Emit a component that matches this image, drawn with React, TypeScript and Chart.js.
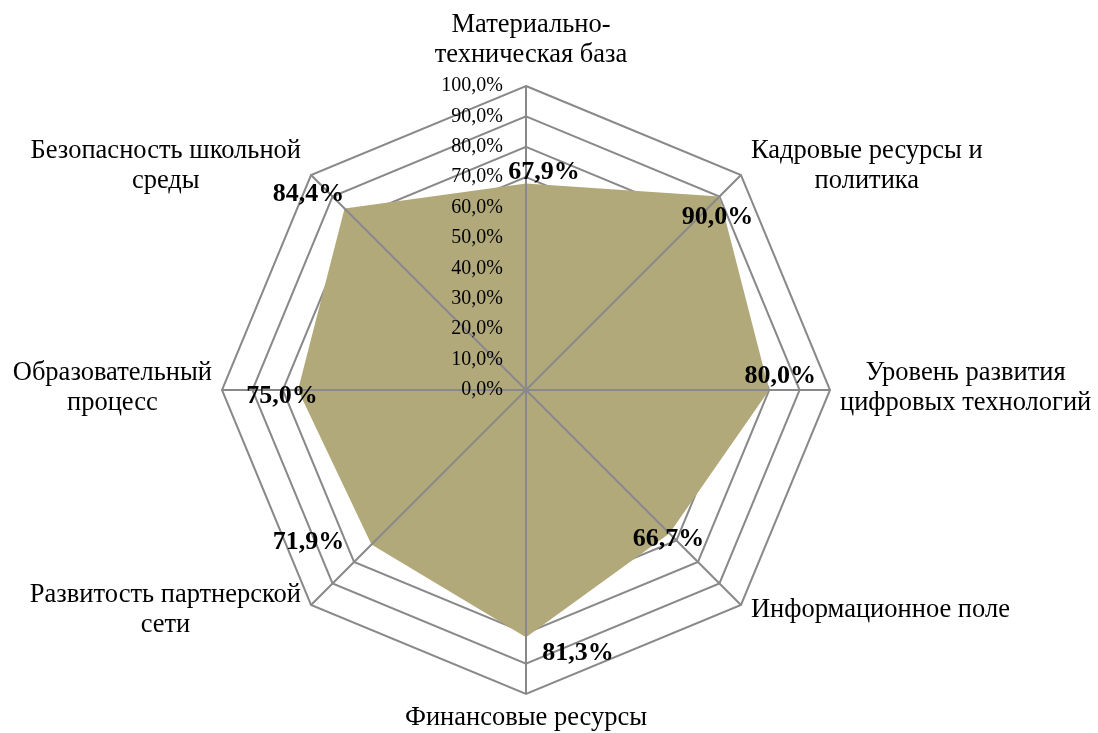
import React, { useEffect, useRef } from "react";
import { Chart, registerables } from "chart.js";

Chart.register(...registerables);

const categories: string[][] = [
  ["Материально-", "техническая база"],
  ["Кадровые ресурсы и", "политика"],
  ["Уровень развития", "цифровых технологий"],
  ["Информационное поле"],
  ["Финансовые ресурсы"],
  ["Развитость партнерской", "сети"],
  ["Образовательный", "процесс"],
  ["Безопасность школьной", "среды"],
];

const values: number[] = [67.9, 90.0, 80.0, 66.7, 81.3, 71.9, 75.0, 84.4];

const tickValues: number[] = [0, 10, 20, 30, 40, 50, 60, 70, 80, 90, 100];

// style / placement (not data)
const FILL = "#B2A97A";
const GRID = "#898989";
const SERIF = '"Liberation Serif", "Times New Roman", serif';
const LABEL_OFFSETS: [number, number][] = [
  [18, -5],
  [-2, 27],
  [11, -7],
  [-1, 13],
  [52, 23],
  [-63, 4],
  [-16, 13],
  [-36, -8],
];

const fmt = (v: number) => v.toFixed(1).replace(".", ",") + "%";

const overlayPlugin = {
  id: "overlay",
  afterDatasetsDraw(chart: any) {
    const scale = chart.scales.r;
    const ctx = chart.ctx as CanvasRenderingContext2D;
    const n = categories.length;
    const xc = scale.xCenter;
    const yc = scale.yCenter;
    const R = scale.drawingArea;
    ctx.save();

    // spokes drawn over the fill
    ctx.strokeStyle = GRID;
    ctx.lineWidth = 2;
    for (let i = 0; i < n; i++) {
      const p = scale.getPointPosition(i, R);
      ctx.beginPath();
      ctx.moveTo(xc, yc);
      ctx.lineTo(p.x, p.y);
      ctx.stroke();
    }

    // tick labels
    ctx.fillStyle = "#000";
    ctx.font = `20px ${SERIF}`;
    ctx.textAlign = "right";
    ctx.textBaseline = "middle";
    for (const v of tickValues) {
      const y = yc - scale.getDistanceFromCenterForValue(v);
      ctx.fillText(fmt(v), xc - 23, y);
    }

    // data labels
    ctx.font = `bold 26px ${SERIF}`;
    ctx.textAlign = "center";
    ctx.textBaseline = "alphabetic";
    for (let i = 0; i < n; i++) {
      const p = scale.getPointPositionForValue(i, values[i]);
      const [dx, dy] = LABEL_OFFSETS[i];
      ctx.fillText(fmt(values[i]), p.x + dx, p.y + dy);
    }

    // point labels
    ctx.font = `26.5px ${SERIF}`;
    ctx.textBaseline = "middle";
    ctx.textAlign = "center";
    const lh = 29.5;
    const gap = 10;
    for (let i = 0; i < n; i++) {
      const lines = categories[i];
      const p = scale.getPointPosition(i, R);
      const cos = (p.x - xc) / R;
      const sin = (p.y - yc) / R;
      const w = Math.max(...lines.map((l) => ctx.measureText(l).width));
      let cx: number;
      let firstY: number;
      if (Math.abs(cos) < 0.1) {
        cx = p.x + (sin < 0 ? 5 : 0);
        if (sin < 0) {
          firstY = p.y - 31 - (lines.length - 1) * lh;
        } else {
          firstY = p.y + 24;
        }
      } else {
        cx = cos > 0 ? p.x + gap + w / 2 : p.x - gap - w / 2;
        const centerY = p.y - 2 + sin * 10;
        firstY = centerY - ((lines.length - 1) * lh) / 2;
      }
      lines.forEach((l, k) => ctx.fillText(l, cx, firstY + k * lh));
    }
    ctx.restore();
  },
};

export default function App() {
  const ref = useRef<HTMLCanvasElement>(null);
  useEffect(() => {
    document.body.style.margin = "0";
    const chart = new Chart(ref.current as HTMLCanvasElement, {
      type: "radar",
      data: {
        labels: categories.map((c) => c.join(" ")),
        datasets: [
          {
            data: values,
            backgroundColor: FILL,
            borderWidth: 0,
            pointRadius: 0,
            fill: true,
          },
        ],
      },
      options: {
        animation: false,
        responsive: true,
        maintainAspectRatio: false,
        layout: { padding: { left: 222, right: 268, top: 86, bottom: 39 } },
        plugins: { legend: { display: false }, tooltip: { enabled: false } },
        scales: {
          r: {
            min: 0,
            max: 100,
            ticks: { stepSize: 10, display: false, showLabelBackdrop: false },
            grid: { color: GRID, lineWidth: 2 },
            angleLines: { display: false },
            pointLabels: { display: false },
          },
        },
      },
      plugins: [overlayPlugin],
    });
    return () => chart.destroy();
  }, []);
  return (
    <div style={{ width: 1098, height: 733, position: "relative", background: "#fff" }}>
      <canvas ref={ref} />
    </div>
  );
}
